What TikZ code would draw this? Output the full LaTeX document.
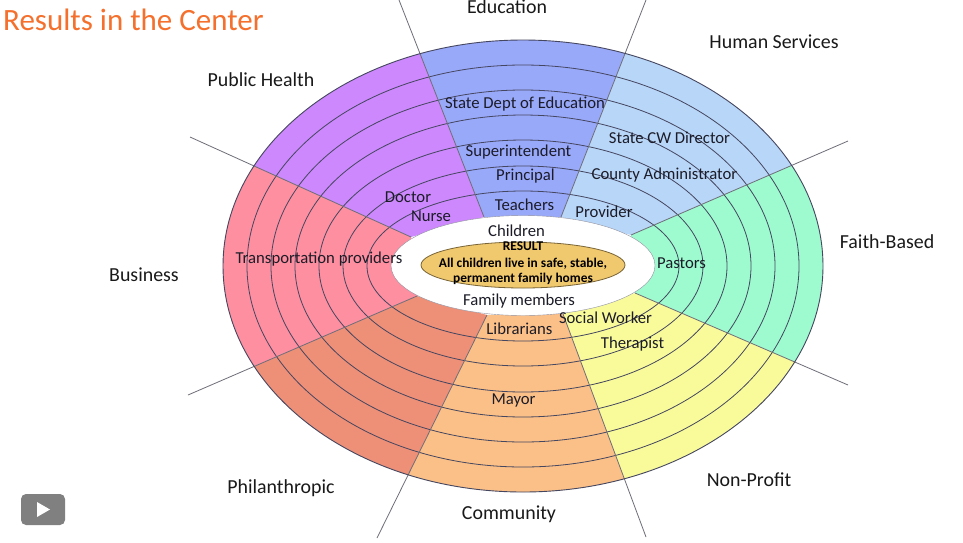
\documentclass[tikz,border=0pt]{standalone}
\usepackage{fontspec}
\usetikzlibrary{shapes.geometric}
\setmainfont{Carlito}
\definecolor{cEdu}{HTML}{99A9FA}
\definecolor{cHum}{HTML}{B8D6F8}
\definecolor{cFai}{HTML}{9DFBCF}
\definecolor{cNon}{HTML}{F9FB9B}
\definecolor{cCom}{HTML}{FBC088}
\definecolor{cPhi}{HTML}{EE8F78}
\definecolor{cBus}{HTML}{FE8FA0}
\definecolor{cPub}{HTML}{CC88FC}
\definecolor{cGold}{HTML}{F0C86E}
\definecolor{cRing}{HTML}{45465F}
\definecolor{cSpoke}{HTML}{6E6E78}
\definecolor{cTitle}{HTML}{F4702C}
\definecolor{cInk}{HTML}{1C1C28}
\tikzset{
  x=1pt,y=-1pt,
  ringline/.style={draw=cRing,line width=0.8pt},
  spokeline/.style={draw=cSpoke,line width=0.8pt},
  headlabel/.style={font=\fontsize{19.9}{22}\selectfont,text=black!90,inner sep=0pt},
  inlabel/.style={font=\fontsize{16.7}{18}\selectfont,text=cInk,inner sep=0pt},
  resultlabel/.style={font=\fontsize{13.4}{15}\selectfont\bfseries,text=black,inner sep=0pt},
}
\begin{document}
\begin{tikzpicture}
\useasboundingbox (0,0) rectangle (963,542);
\fill[white] (0,0) rectangle (963,542);
\coordinate (c) at (523,266);
% spoke end points: inner, far
\coordinate (eLi) at (484,217); \coordinate (eLo) at (399,0);
\coordinate (eRi) at (561,217); \coordinate (eRo) at (646,0);
\coordinate (fTi) at (631,235); \coordinate (fTo) at (848,141);
\coordinate (fBi) at (635,293); \coordinate (fBo) at (848,385);
\coordinate (nRi) at (563,314); \coordinate (nRo) at (646,537);
\coordinate (nLi) at (487,315); \coordinate (nLo) at (377,538);
\coordinate (bBi) at (417,296); \coordinate (bBo) at (188,395);
\coordinate (bTi) at (411,237); \coordinate (bTo) at (190,137);
\begin{scope}
  \clip (c) ellipse [x radius=300pt,y radius=226pt];
  \fill[cEdu] (eLi) -- (eLo) -- (eRo) -- (eRi) -- cycle;
  \fill[cHum] (eRi) -- (eRo) -- (900,0) -- (fTo) -- (fTi) -- cycle;
  \fill[cFai] (fTi) -- (fTo) -- (fBo) -- (fBi) -- cycle;
  \fill[cNon] (fBi) -- (fBo) -- (900,542) -- (nRo) -- (nRi) -- cycle;
  \fill[cCom] (nRi) -- (nRo) -- (nLo) -- (nLi) -- cycle;
  \fill[cPhi] (nLi) -- (nLo) -- (150,542) -- (bBo) -- (bBi) -- cycle;
  \fill[cBus] (bBi) -- (bBo) -- (bTo) -- (bTi) -- cycle;
  \fill[cPub] (bTi) -- (bTo) -- (150,0) -- (eLo) -- (eLi) -- cycle;
  \foreach \rx/\ry in {276/201,252/176,228/151,204/126,180/100,156/75}
    \draw[ringline] (c) ellipse [x radius=\rx pt,y radius=\ry pt];
\end{scope}
\draw[spokeline] (eLi) -- (eLo);
\draw[spokeline] (eRi) -- (eRo);
\draw[spokeline] (fTi) -- (fTo);
\draw[spokeline] (fBi) -- (fBo);
\draw[spokeline] (nRi) -- (nRo);
\draw[spokeline] (nLi) -- (nLo);
\draw[spokeline] (bBi) -- (bBo);
\draw[spokeline] (bTi) -- (bTo);
\draw[draw=cRing,line width=0.9pt] (c) ellipse [x radius=300pt,y radius=226pt];
\node[ellipse,minimum width=264pt,minimum height=100pt,inner sep=0pt,fill=white,draw=cRing!60,line width=0.4pt] (hole) at (523,265.5) {};
\node[ellipse,minimum width=204pt,minimum height=46pt,inner sep=0pt,fill=cGold,draw=black!50!cGold,line width=0.8pt] (core) at (523,265) {};
\node[anchor=west,inner sep=0pt,text=cTitle,font=\fontsize{31}{34}\selectfont] (title) at (3,19.5) {Results in the Center};
\node[headlabel] (lEdu) at (507,6.5) {Education};
\node[headlabel] (lHum) at (774,41.5) {Human Services};
\node[headlabel] (lPub) at (261,79.5) {Public Health};
\node[headlabel] (lFai) at (887,241.5) {Faith-Based};
\node[headlabel] (lBus) at (144,274.5) {Business};
\node[headlabel] (lPhi) at (281,488) {Philanthropic};
\node[headlabel] (lCom) at (509,514) {Community};
\node[headlabel] (lNon) at (749,480) {Non-Profit};
\node[inlabel] (a1) at (525,104.5) {State Dept of Education};
\node[inlabel] (a2) at (669.5,137.5) {State CW Director};
\node[inlabel] (a3) at (518.5,152.5) {Superintendent};
\node[inlabel] (a4) at (525.5,176) {Principal};
\node[inlabel] (a5) at (664.5,175.5) {County Administrator};
\node[inlabel] (a6) at (524.5,204.5) {Teachers};
\node[inlabel] (a7) at (604,212) {Provider};
\node[inlabel] (a8) at (408,197.5) {Doctor};
\node[inlabel] (a9) at (431,216) {Nurse};
\node[inlabel] (a10) at (516.5,230.5) {Children};
\node[inlabel] (a11) at (319,259.5) {Transportation providers};
\node[inlabel] (a12) at (681.5,263) {Pastors};
\node[inlabel] (a13) at (519,301.5) {Family members};
\node[inlabel] (a14) at (519.5,328.5) {Librarians};
\node[inlabel] (a15) at (605.5,318) {Social Worker};
\node[inlabel] (a16) at (632.5,344.5) {Therapist};
\node[inlabel] (a17) at (513.5,400.5) {Mayor};
\node[resultlabel] (r1) at (523,246.5) {RESULT};
\node[resultlabel] (r2) at (523,263.5) {All children live in safe, stable,};
\node[resultlabel] (r3) at (523,278.5) {permanent family homes};
\fill[black!50,rounded corners=5pt] (21,494) rectangle (65,525);
\fill[white] (37,502) -- (50,509.5) -- (37,517) -- cycle;
\end{tikzpicture}
\end{document}
